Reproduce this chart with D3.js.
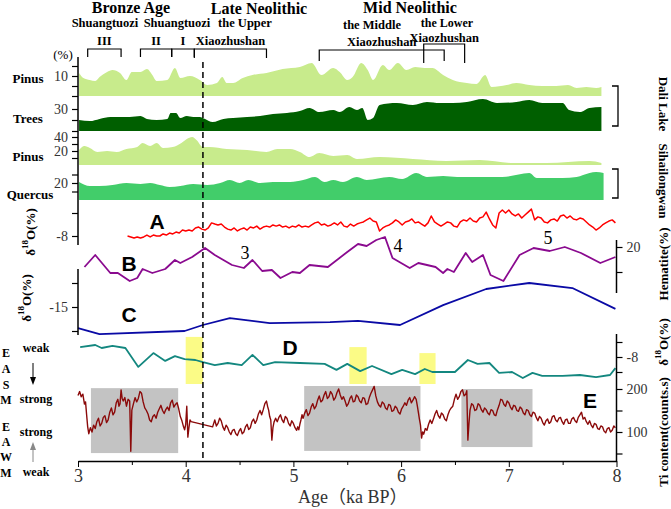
<!DOCTYPE html>
<html>
<head>
<meta charset="utf-8">
<script src="https://d3js.org/d3.v7.min.js"></script>
<style>
  body { margin: 0; background: #fff; }
  svg text { font-family: "Liberation Serif", "Times New Roman", serif; }
</style>
</head>
<body>
<div id="chart"></div>
<script>

// ---- data (age in ka BP) ----

// Dali Lake pollen
var dpAge = [3.01,3.05,3.11,3.16,3.20,3.27,3.32,3.39,3.45,3.50,3.58,3.64,3.69,3.73,3.83,3.90,3.95,4.04,4.13,4.20,4.29,4.34,4.38,4.44,4.53,4.62,4.75,4.90,5.06,5.17,5.26,5.37,5.43,5.50,5.55,5.63,5.69,5.74,5.83,5.89,5.97,6.05,6.13,6.22,6.29,6.39,6.48,6.61,6.70,6.78,6.84,6.98,7.07,7.19,7.31,7.44,7.55,7.63,7.72,7.81,7.86];
var dpPinus = [11.5,9.0,8.0,7.5,9.5,12.0,13.0,11.5,8.0,12.0,12.0,13.5,10.5,7.5,8.0,14.0,9.0,10.0,8.0,5.5,6.5,9.5,6.5,6.5,9.0,10.5,11.5,13.5,14.5,16.5,10.5,14.0,12.0,8.0,9.5,16.5,13.0,8.0,15.5,13.0,16.5,13.0,14.5,14.0,14.0,10.5,8.0,6.5,6.0,10.5,4.5,5.5,6.5,5.5,5.0,5.0,5.5,4.0,4.5,4.0,4.5];

var trAge = [3.01,3.11,3.20,3.30,3.39,3.48,3.58,3.64,3.73,3.83,3.86,3.91,3.95,4.01,4.07,4.13,4.18,4.25,4.35,4.44,4.57,4.69,4.81,4.94,5.06,5.15,5.24,5.37,5.43,5.52,5.59,5.64,5.69,5.74,5.80,5.96,6.11,6.24,6.36,6.48,6.61,6.76,6.89,7.07,7.19,7.31,7.50,7.56,7.66,7.75,7.86];
var trees = [25.0,24.5,25.5,26.4,26.4,26.4,26.8,25.5,25.0,25.5,28.2,28.2,25.9,26.8,26.4,26.4,25.5,24.1,25.5,25.9,26.4,26.8,27.7,28.2,29.1,30.5,28.6,29.5,28.6,30.9,29.5,30.5,25.0,25.9,31.8,32.7,31.8,33.2,32.7,32.7,33.2,34.5,32.7,33.2,34.1,32.7,32.7,29.5,28.6,30.5,30.9];

// Sihailongwan pollen
var spAge = [3.01,3.06,3.11,3.18,3.27,3.36,3.45,3.55,3.60,3.67,3.73,3.79,3.88,3.96,4.01,4.06,4.10,4.16,4.22,4.38,4.57,4.75,4.85,4.97,5.06,5.15,5.24,5.37,5.50,5.59,5.80,6.11,6.42,6.73,7.04,7.35,7.75,7.86];
var spPinus = [21.4,27.1,24.3,18.6,20.0,18.6,22.9,25.7,31.4,27.1,31.4,24.3,25.7,31.4,37.1,40.0,35.7,25.7,25.7,22.9,21.4,18.6,22.9,22.9,18.6,11.4,17.1,12.9,14.3,8.6,11.4,8.6,5.7,7.1,2.9,2.9,5.7,2.9];

var quAge = [3.01,3.11,3.20,3.32,3.45,3.58,3.67,3.76,3.85,3.95,4.07,4.20,4.32,4.41,4.50,4.58,4.69,4.81,4.97,5.09,5.20,5.29,5.37,5.46,5.59,5.68,5.89,6.01,6.14,6.24,6.39,6.52,6.73,6.94,7.19,7.26,7.50,7.63,7.75,7.81,7.88];
var quercus = [21.2,16.5,16.5,17.6,20.0,18.8,20.0,17.6,15.3,16.5,18.8,17.6,20.0,23.5,20.0,23.5,20.0,21.2,21.2,23.5,27.1,21.2,23.5,21.2,27.1,23.5,27.1,24.7,31.8,27.1,28.2,27.1,27.1,27.1,31.8,25.9,25.9,27.1,31.8,32.9,31.8];

// A: d18O (per mil)
var aAge = [3.46,3.49,3.52,3.55,3.58,3.61,3.64,3.67,3.70,3.73,3.76,3.79,3.82,3.85,3.88,3.91,3.94,3.97,4.00,4.03,4.06,4.09,4.12,4.15,4.18,4.21,4.24,4.27,4.30,4.33,4.36,4.39,4.42,4.45,4.48,4.51,4.54,4.57,4.60,4.63,4.66,4.69,4.72,4.75,4.78,4.81,4.84,4.87,4.90,4.93,4.96,4.99,5.02,5.05,5.08,5.11,5.14,5.17,5.20,5.23,5.26,5.29,5.32,5.35,5.38,5.41,5.44,5.47,5.50,5.53,5.56,5.59,5.62,5.65,5.68,5.71,5.74,5.77,5.80,5.83,5.86,5.89,5.92,5.95,5.98,6.01,6.04,6.07,6.10,6.13,6.16,6.19,6.22,6.25,6.28,6.31,6.34,6.37,6.40,6.43,6.46,6.49,6.52,6.55,6.58,6.61,6.64,6.67,6.70,6.73,6.76,6.79,6.82,6.85,6.88,6.91,6.94,6.97,7.00,7.03,7.06,7.09,7.12,7.15,7.18,7.21,7.24,7.27,7.30,7.33,7.36,7.39,7.42,7.45,7.48,7.51,7.54,7.57,7.60,7.63,7.66,7.69,7.72,7.75,7.78,7.81,7.84,7.87,7.90,7.93,7.96,7.99];
var aVal = [-8.00,-8.04,-8.09,-8.04,-8.09,-8.04,-7.96,-8.04,-7.96,-8.00,-8.00,-7.91,-7.96,-7.87,-7.91,-7.83,-7.87,-7.74,-7.78,-7.74,-7.78,-7.65,-7.61,-7.70,-7.74,-7.65,-7.43,-7.48,-7.52,-7.48,-7.61,-7.70,-7.74,-7.65,-7.78,-7.70,-7.65,-7.74,-7.61,-7.65,-7.57,-7.70,-7.61,-7.57,-7.61,-7.52,-7.57,-7.52,-7.61,-7.57,-7.65,-7.57,-7.61,-7.52,-7.61,-7.57,-7.61,-7.52,-7.43,-7.39,-7.52,-7.48,-7.57,-7.52,-7.43,-7.52,-7.39,-7.57,-7.61,-7.48,-7.57,-7.48,-7.43,-7.39,-7.30,-7.22,-7.35,-7.39,-7.78,-7.65,-7.57,-7.52,-7.43,-7.30,-7.39,-7.52,-7.39,-7.35,-7.26,-7.43,-7.39,-7.48,-7.57,-7.43,-7.13,-7.39,-7.48,-7.57,-7.48,-7.39,-7.43,-7.57,-7.61,-7.39,-7.30,-7.35,-7.22,-7.35,-7.39,-7.22,-7.17,-6.96,-7.26,-7.52,-7.65,-7.00,-6.87,-7.00,-6.87,-7.04,-7.13,-7.04,-7.22,-7.09,-6.96,-6.83,-7.30,-7.17,-7.22,-7.39,-7.43,-7.30,-7.26,-7.35,-7.13,-7.09,-7.22,-7.13,-7.26,-7.30,-7.22,-7.26,-7.39,-7.52,-7.61,-7.74,-7.65,-7.52,-7.43,-7.35,-7.30,-7.43];

// B: hematite (%)
var bAge = [3.06,3.16,3.30,3.37,3.48,3.55,3.60,3.69,3.81,3.90,3.95,4.06,4.18,4.27,4.43,4.54,4.62,4.71,4.80,4.88,4.99,5.06,5.15,5.32,5.50,5.60,5.68,5.77,5.85,5.92,6.08,6.16,6.32,6.39,6.43,6.49,6.60,6.66,6.76,6.83,6.95,7.10,7.23,7.38,7.52,7.67,7.85,7.99];
var bVal = [12.0,16.8,9.6,9.6,6.4,7.6,11.2,9.6,11.2,14.8,13.6,16.0,19.6,16.8,12.8,11.6,14.8,10.4,10.8,7.6,10.0,9.6,12.8,12.0,18.0,21.2,20.4,22.8,24.0,15.6,11.6,13.6,12.0,9.6,11.2,10.0,17.6,14.0,16.8,8.8,6.4,16.8,19.6,18.4,20.0,17.6,13.6,16.0];

// C: d18O (per mil)
var cAge = [3.00,3.20,3.99,4.16,4.41,4.78,5.34,5.60,5.99,6.39,6.79,7.19,7.59,7.99];
var cVal = [-15.88,-16.13,-16.00,-15.75,-15.46,-15.67,-15.63,-15.58,-15.75,-14.92,-14.25,-14.00,-14.21,-15.08];

// D: d18O (per mil)
var dAge = [3.02,3.16,3.22,3.32,3.44,3.56,3.70,3.81,3.90,3.99,4.09,4.16,4.27,4.39,4.52,4.62,4.72,4.83,5.06,5.29,5.40,5.50,5.62,5.73,5.91,6.01,6.13,6.22,6.29,6.50,6.62,6.71,6.82,6.91,7.03,7.13,7.22,7.31,7.50,7.66,7.81,7.94,7.99];
var dVal = [-7.67,-7.60,-7.70,-7.63,-7.70,-8.33,-7.87,-8.13,-7.97,-8.07,-8.10,-8.17,-8.27,-8.20,-8.27,-7.93,-8.27,-8.17,-8.20,-8.23,-8.43,-8.23,-8.47,-8.30,-8.57,-8.43,-8.57,-8.40,-8.50,-8.50,-8.10,-8.23,-8.20,-8.53,-8.50,-8.70,-8.53,-8.63,-8.63,-8.60,-8.67,-8.60,-8.37];

// E: Ti content (counts/s), [age, value]; no samples between 4.05 and 4.25
var tiSeries = [
  [3.000,185],[3.015,194],[3.030,182],[3.045,188],[3.060,165],[3.070,170],[3.080,140],[3.090,112],[3.100,96],[3.115,110],
  [3.130,100],[3.145,116],[3.160,108],[3.175,124],[3.190,132],[3.205,114],[3.220,120],[3.235,134],[3.250,138],[3.265,122],
  [3.280,128],[3.295,146],[3.310,156],[3.325,140],[3.340,146],[3.355,168],[3.370,176],[3.380,160],[3.390,165],[3.400,198],
  [3.410,178],[3.420,172],[3.435,180],[3.450,160],[3.465,176],[3.480,172],[3.490,55],[3.500,151],[3.515,166],[3.530,180],
  [3.545,170],[3.560,178],[3.575,194],[3.590,190],[3.605,170],[3.620,156],[3.635,150],[3.650,142],[3.665,128],[3.680,124],
  [3.695,136],[3.710,140],[3.725,132],[3.740,146],[3.755,154],[3.770,162],[3.785,150],[3.800,143],[3.815,152],[3.830,158],
  [3.845,150],[3.860,168],[3.875,174],[3.890,158],[3.905,164],[3.920,168],[3.935,154],[3.950,136],[3.965,126],[3.980,112],
  [3.990,105],[4.000,118],[4.010,160],[4.020,88],[4.030,110],[4.040,128],[4.050,124],
  [4.250,112],[4.260,120],[4.270,128],[4.285,114],[4.300,120],[4.315,132],[4.330,126],[4.345,112],[4.360,104],[4.375,116],
  [4.390,110],[4.405,100],[4.420,94],[4.435,104],[4.450,106],[4.465,96],[4.480,92],[4.495,102],[4.510,108],[4.525,96],
  [4.540,100],[4.555,112],[4.570,118],[4.585,106],[4.600,110],[4.615,124],[4.630,130],[4.645,120],[4.660,128],[4.675,142],
  [4.690,150],[4.705,140],[4.720,152],[4.735,166],[4.750,172],[4.760,160],[4.770,151],[4.780,136],[4.790,128],[4.800,81],
  [4.810,110],[4.820,123],[4.835,132],[4.850,124],[4.865,134],[4.880,140],[4.895,128],[4.910,122],[4.925,136],[4.940,132],
  [4.955,120],[4.970,114],[4.985,126],[5.000,120],[5.015,110],[5.030,104],[5.040,112],[5.050,105],[5.060,118],[5.070,128],
  [5.080,140],[5.090,132],[5.105,144],[5.120,152],[5.135,138],[5.150,144],[5.165,158],[5.180,166],[5.195,154],[5.210,160],
  [5.225,174],[5.240,184],[5.255,170],[5.270,174],[5.285,186],[5.300,194],[5.315,178],[5.330,182],[5.345,194],[5.360,188],
  [5.375,174],[5.390,180],[5.405,192],[5.420,200],[5.435,186],[5.450,176],[5.465,182],[5.480,172],[5.495,160],[5.510,166],
  [5.525,178],[5.540,184],[5.555,170],[5.570,172],[5.585,186],[5.600,182],[5.615,172],[5.630,168],[5.645,180],[5.660,178],
  [5.675,164],[5.690,166],[5.705,180],[5.720,190],[5.735,198],[5.750,206],[5.765,184],[5.780,170],[5.795,162],[5.810,158],
  [5.825,170],[5.840,166],[5.855,156],[5.870,152],[5.885,164],[5.900,162],[5.915,148],[5.930,150],[5.945,160],[5.960,156],
  [5.975,146],[5.990,142],[6.005,154],[6.020,160],[6.035,168],[6.050,162],[6.065,174],[6.080,180],[6.095,168],[6.110,174],
  [6.125,182],[6.140,176],[6.150,162],[6.160,146],[6.170,130],[6.180,116],[6.190,86],[6.200,100],[6.210,95],[6.225,108],
  [6.240,104],[6.255,118],[6.270,128],[6.285,120],[6.300,130],[6.315,142],[6.330,150],[6.345,138],[6.360,132],[6.375,144],
  [6.390,140],[6.405,130],[6.420,126],[6.435,140],[6.450,150],[6.465,156],[6.480,160],[6.495,176],[6.510,188],[6.525,176],
  [6.540,182],[6.555,194],[6.570,198],[6.585,184],[6.600,188],[6.610,196],[6.620,81],[6.630,120],[6.640,151],[6.655,166],
  [6.670,162],[6.685,150],[6.700,152],[6.715,166],[6.730,162],[6.745,152],[6.760,146],[6.775,156],[6.790,152],[6.805,144],
  [6.820,140],[6.835,152],[6.850,150],[6.865,140],[6.880,138],[6.895,152],[6.910,162],[6.925,176],[6.940,174],[6.955,164],
  [6.970,160],[6.985,172],[7.000,168],[7.015,158],[7.030,152],[7.045,162],[7.060,160],[7.075,150],[7.090,148],[7.105,158],
  [7.120,154],[7.135,144],[7.150,140],[7.165,152],[7.180,150],[7.195,140],[7.210,136],[7.225,146],[7.240,144],[7.255,134],
  [7.270,126],[7.285,136],[7.300,132],[7.315,122],[7.330,116],[7.345,126],[7.360,130],[7.375,120],[7.390,124],[7.405,136],
  [7.420,138],[7.435,128],[7.450,124],[7.465,132],[7.480,134],[7.495,124],[7.510,118],[7.525,128],[7.540,130],[7.555,120],
  [7.570,120],[7.585,130],[7.600,134],[7.615,126],[7.630,122],[7.645,134],[7.660,140],[7.675,146],[7.690,130],[7.705,134],
  [7.720,124],[7.735,118],[7.750,126],[7.765,116],[7.780,110],[7.795,120],[7.810,118],[7.825,108],[7.840,106],[7.855,114],
  [7.870,112],[7.885,102],[7.900,98],[7.915,108],[7.930,110],[7.945,100],[7.960,104],[7.975,114],[7.990,110]
];

// shaded intervals
var grayStart = [3.12, 5.10, 6.56];
var grayEnd = [3.93, 6.18, 7.22];
var grayTop = [202, 207, 200];
var grayBottom = [51, 56, 65];

var yellowStart = [4.00, 5.52, 6.17];
var yellowEnd = [4.16, 5.68, 6.32];
var yellowTop = [-7.33, -7.67, -7.87];

// cultural periods (brackets on top)
var periodNames = ["III", "II", "I", "Xiaozhushan", "Xiaozhushan", "Xiaozhushan"];
var periodStart = [3.09, 3.58, 3.87, 4.08, 5.24, 6.21];
var periodEnd = [3.40, 3.87, 4.08, 4.75, 6.40, 6.59];

var boundaryAge = 4.16;
var xTicks = [3, 4, 5, 6, 7, 8];

// ---- svg ----
var svg = d3.select("#chart").append("svg")
  .attr("width", 671)
  .attr("height", 509);

var x = d3.scaleLinear().domain([3, 8]).range([78, 616.5]);

// panel scales
var yDP = d3.scaleLinear().domain([0, 10]).range([96, 76]);
var yTr = d3.scaleLinear().domain([20, 30]).range([131, 109]);
var ySP = d3.scaleLinear().domain([0, 40]).range([165, 137]);
var yQu = d3.scaleLinear().domain([0, 20]).range([200, 183]);
var yA = d3.scaleLinear().domain([-8, -7]).range([236, 213]);
var yB = d3.scaleLinear().domain([10, 20]).range([272, 247]);
var yC = d3.scaleLinear().domain([-15, -14]).range([307, 283]);
var yD = d3.scaleLinear().domain([-8, -7.5]).range([357, 342]);
var yE = d3.scaleLinear().domain([100, 200]).range([432, 389]);

// gray boxes behind E
svg.append("g").selectAll("rect")
  .data(grayStart)
  .enter().append("rect")
  .attr("x", function(d) { return x(d); })
  .attr("width", function(d, i) { return x(grayEnd[i]) - x(d); })
  .attr("y", function(d, i) { return yE(grayTop[i]); })
  .attr("height", function(d, i) { return yE(grayBottom[i]) - yE(grayTop[i]); })
  .style("fill", "#c3c3c3");

// yellow bars
svg.append("g").selectAll("rect")
  .data(yellowStart)
  .enter().append("rect")
  .attr("x", function(d) { return x(d); })
  .attr("width", function(d, i) { return x(yellowEnd[i]) - x(d); })
  .attr("y", function(d, i) { return yD(yellowTop[i]); })
  .attr("height", function(d, i) { return 384 - yD(yellowTop[i]); })
  .style("fill", "#fbfb86");

// pollen areas
function drawArea(ages, vals, y, base, color) {
  var area = d3.area()
    .curve(d3.curveMonotoneX)
    .x(function(d, i) { return x(ages[i]); })
    .y0(y(base))
    .y1(function(d) { return y(d); });
  svg.append("path")
    .datum(vals)
    .attr("d", area)
    .style("fill", color);
}
drawArea(dpAge, dpPinus, yDP, 0, "#c8eb8c");
drawArea(trAge, trees, yTr, 20, "#005f00");
drawArea(spAge, spPinus, ySP, 0, "#c8eb8c");
drawArea(quAge, quercus, yQu, 0, "#42cd6a");

// curves
function drawLine(ages, vals, y, color, w) {
  var line = d3.line()
    .x(function(d, i) { return x(ages[i]); })
    .y(function(d) { return y(d); });
  svg.append("path")
    .datum(vals)
    .attr("d", line)
    .style("fill", "none")
    .style("stroke", color)
    .style("stroke-width", w)
    .style("stroke-linejoin", "round");
}
drawLine(aAge, aVal, yA, "#ff0000", 1.5);
drawLine(bAge, bVal, yB, "#8a0a8f", 1.8);
drawLine(cAge, cVal, yC, "#0a0aa5", 1.8);
drawLine(dAge, dVal, yD, "#13877f", 1.8);

var tiLine = d3.line()
  .x(function(d) { return x(d[0]); })
  .y(function(d) { return yE(d[1]); });
svg.append("path")
  .datum(tiSeries)
  .attr("d", tiLine)
  .style("fill", "none")
  .style("stroke", "#8b0a0a")
  .style("stroke-width", 1.4)
  .style("stroke-linejoin", "round");

// ---- axes ----
function yAxis(scale, side, ticks, labels, xpos) {
  var ax = (side == "left" ? d3.axisLeft(scale) : d3.axisRight(scale))
    .tickValues(ticks)
    .tickSize(6)
    .tickPadding(4)
    .tickFormat(function(d) { return labels.indexOf(d) >= 0 ? d : ""; });
  var g = svg.append("g")
    .attr("transform", "translate(" + xpos + ",0)")
    .call(ax);
  g.select(".domain").remove();
  g.selectAll("line").style("stroke", "#000").style("stroke-width", 1.2);
  g.selectAll("text")
    .style("font-family", "Liberation Serif, serif")
    .style("font-size", "14px")
    .style("fill", "#333");
}
yAxis(yDP, "left", [0, 5, 10, 15], [10], 78);
yAxis(yTr, "left", [20, 25, 30], [30], 78);
yAxis(ySP, "left", [10, 20, 30, 40], [20, 40], 78);
yAxis(yQu, "left", [10, 20, 30], [20], 78);
yAxis(yA, "left", [-8, -7], [-8], 78);
yAxis(yC, "left", [-16, -15, -14], [-15], 78);
yAxis(yB, "right", [10, 20], [20], 616.5);
yAxis(yD, "right", [-8.5, -8, -7.5], [-8], 616.5);
yAxis(yE, "right", [50, 100, 150, 200], [100, 200], 616.5);

// axis lines
function vline(xp, y1, y2) {
  svg.append("line")
    .attr("x1", xp).attr("x2", xp)
    .attr("y1", y1).attr("y2", y2)
    .style("stroke", "#000")
    .style("stroke-width", 1.5);
}
vline(78, 57, 245);
vline(78, 269, 335);
vline(616.5, 240, 293);
vline(616.5, 334, 461);

// bottom axis
var xMinor = d3.axisBottom(x)
  .tickValues([3.5, 4.5, 5.5, 6.5, 7.5])
  .tickSize(4)
  .tickFormat("");
svg.append("g")
  .attr("transform", "translate(0,461)")
  .call(xMinor)
  .select(".domain").remove();

var xg = svg.append("g")
  .attr("transform", "translate(0,461)")
  .call(d3.axisBottom(x).tickValues(xTicks).tickFormat(d3.format("d"))
    .tickSize(6).tickSizeOuter(0).tickPadding(2));
xg.select(".domain").style("stroke-width", 1.5);
xg.selectAll("text")
  .style("font-family", "Liberation Serif, serif")
  .style("font-size", "18px")
  .style("fill", "#333");

svg.append("text")
  .attr("x", 298)
  .attr("y", 503)
  .style("font-family", "'Liberation Serif', 'Noto Sans CJK SC', serif")
  .style("font-size", "18px")
  .style("fill", "#333")
  .text("Age（ka BP）");

// boundary dashed line
svg.append("line")
  .attr("x1", x(boundaryAge)).attr("x2", x(boundaryAge))
  .attr("y1", 62).attr("y2", 461)
  .style("stroke", "#000")
  .style("stroke-width", 1.5)
  .style("stroke-dasharray", "6,4");

// ---- header: ages & cultures ----
function label(t, xp, yp, size, anchor, weight) {
  return svg.append("text")
    .attr("x", xp).attr("y", yp)
    .attr("text-anchor", anchor || "middle")
    .style("font-size", size + "px")
    .style("font-weight", weight || "bold")
    .text(t);
}
label("Bronze Age", 131, 13, 16);
label("Late Neolithic", 259, 14, 16);
label("Mid Neolithic", 410, 13, 16);
label("Shuangtuozi", 105, 27, 12.5);
label("Shuangtuozi", 177, 27, 12.5);
label("the Upper", 245, 27, 12.5);
label("the Middle", 372, 29, 12.5);
label("the Lower", 447, 27, 12);

// period brackets
var legTop = [49, 49, 49, 49, 50, 44];
var legBottom = [57, 57, 57, 58, 61, 63];
var nameY = [45, 45, 45, 45, 46, 42];
periodStart.forEach(function(s, i) {
  var x1 = x(s), x2 = x(periodEnd[i]);
  svg.append("path")
    .attr("d", "M" + x1 + "," + legBottom[i] + "V" + legTop[i] + "H" + x2 + "V" + legBottom[i])
    .style("fill", "none")
    .style("stroke", "#000")
    .style("stroke-width", 1.2);
  label(periodNames[i], (x1 + x2) / 2, nameY[i], 12.5);
});

// ---- left labels ----
label("(%)", 63, 59, 13, "middle", "normal");
label("Pinus", 28, 83, 13);
label("Trees", 28, 123, 13);
label("Pinus", 28, 161, 13);
label("Quercus", 30, 199, 13);

function d18O(xp, yp, rot) {
  var t = svg.append("text")
    .attr("transform", "translate(" + xp + "," + yp + ") rotate(" + rot + ")")
    .attr("text-anchor", "middle")
    .attr("dominant-baseline", "central")
    .style("font-size", "13px")
    .style("font-weight", "bold");
  t.append("tspan").text("δ");
  t.append("tspan").attr("dy", -5).style("font-size", "9px").text("18");
  t.append("tspan").attr("dy", 5).text("O(%)");
}
d18O(30, 232, -90);
d18O(26, 298, -90);

// EASM / EAWM
var easm = ["E", "A", "S", "M"];
var easmY = [353, 369, 385, 400];
var eawm = ["E", "A", "W", "M"];
var eawmY = [427, 442, 457, 473];
easm.forEach(function(c, i) { label(c, 6, easmY[i] + 4, 12); });
eawm.forEach(function(c, i) { label(c, 6, eawmY[i] + 4, 12); });
label("weak", 36, 352, 12);
label("strong", 36, 403, 12);
label("strong", 36, 436, 12);
label("weak", 36, 476, 12);

svg.append("line").attr("x1", 33).attr("x2", 33).attr("y1", 363).attr("y2", 378)
  .style("stroke", "#000").style("stroke-width", 1);
svg.append("path").attr("d", "M30,377L36,377L33,385Z").style("fill", "#000");
svg.append("line").attr("x1", 33).attr("x2", 33).attr("y1", 462).attr("y2", 449)
  .style("stroke", "#888").style("stroke-width", 1);
svg.append("path").attr("d", "M30,450L36,450L33,442Z").style("fill", "#888");

// ---- right labels ----
function rlabel(t, yp, rot) {
  svg.append("text")
    .attr("transform", "translate(663," + yp + ") rotate(" + rot + ")")
    .attr("text-anchor", "middle")
    .attr("dominant-baseline", "central")
    .style("font-size", "13px")
    .style("font-weight", "bold")
    .text(t);
}
rlabel("Dali Lake", 104, 90);
rlabel("Sihailongwan", 181, 90);
rlabel("Hematite(%)", 264, -90);
d18O(663, 342, -90);
rlabel("Ti content(counts.s)", 432, -90);

// site brackets
svg.append("path").attr("d", "M612,86H618V126H612")
  .style("fill", "none").style("stroke", "#000").style("stroke-width", 1.3);
svg.append("path").attr("d", "M612,169H618V198H612")
  .style("fill", "none").style("stroke", "#000").style("stroke-width", 1.3);

// ---- series letters & numbers ----
function big(t, xp, yp) {
  svg.append("text")
    .attr("x", xp).attr("y", yp)
    .attr("text-anchor", "middle")
    .style("font-family", "Liberation Sans, Arial, sans-serif")
    .style("font-size", "21px")
    .style("font-weight", "bold")
    .text(t);
}
big("A", 157, 229);
big("B", 129, 271);
big("C", 129, 322);
big("D", 290, 355);
big("E", 590, 408);

label("3", 245, 259, 18, "middle", "normal");
label("4", 398, 252, 18, "middle", "normal");
label("5", 548, 244, 18, "middle", "normal");

</script>
</body>
</html>
